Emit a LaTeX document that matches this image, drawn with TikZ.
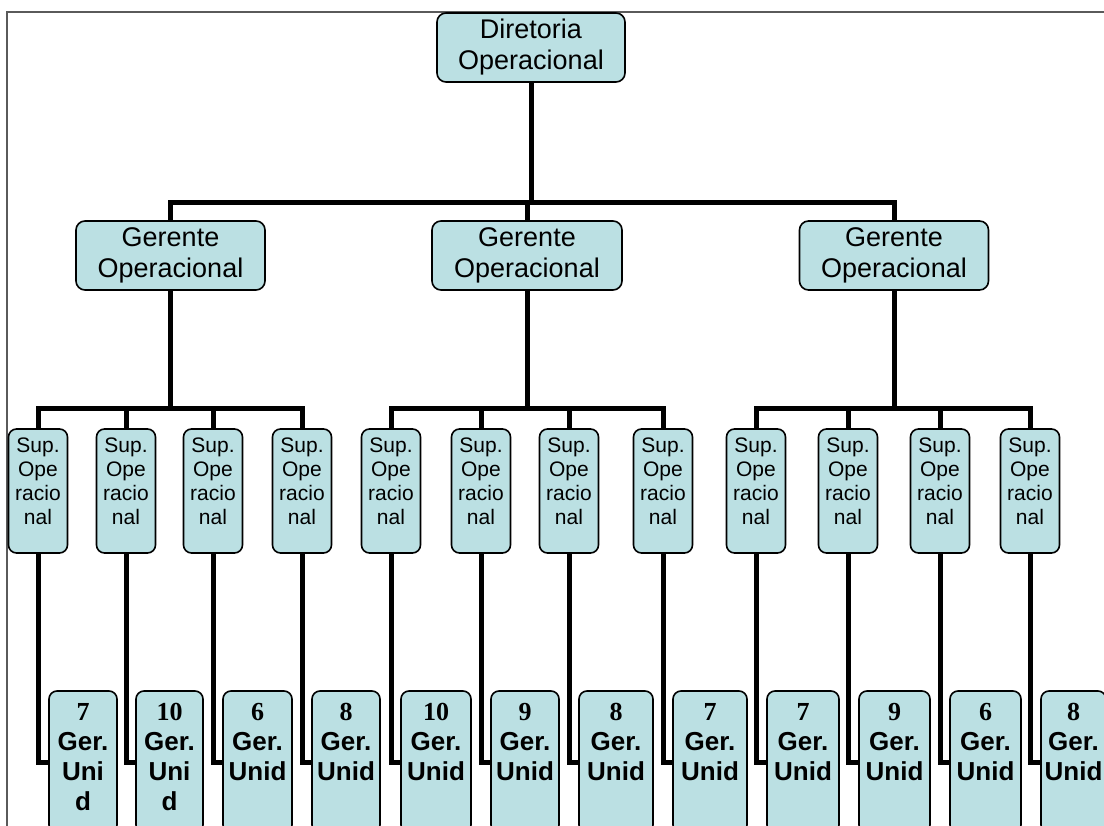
\documentclass[tikz,border=0pt]{standalone}
\usepackage{fontspec}
\setmainfont{Liberation Sans}
\newfontfamily\numfont{Liberation Serif}
\usetikzlibrary{backgrounds}
\definecolor{boxfill}{RGB}{187,224,227}
\definecolor{framecol}{RGB}{90,90,90}
\begin{document}
\begin{tikzpicture}[x=1pt,y=-1pt,
  box/.style={draw=black, line width=1.6pt, fill=boxfill, rounded corners=9pt, inner sep=0pt},
  bigbox/.style={box, minimum width=189pt, minimum height=69pt, align=center, font=\fontsize{27}{31}\selectfont},
  supbox/.style={box, rounded corners=8pt, minimum width=59pt, minimum height=124pt},
  suptext/.style={anchor=north, inner sep=0pt, align=center, font=\fontsize{21}{24}\selectfont},
  gerbox/.style={box, rounded corners=8pt, minimum height=142pt},
  gertext/.style={anchor=north, inner sep=0pt, align=center, font=\fontsize{26}{30}\selectfont\bfseries},
  conn/.style={line width=5pt, line join=miter, draw=black},
  framestyle/.style={line width=1.6pt, draw=framecol}]
\useasboundingbox (0,0) rectangle (1104,826);
\clip (0,0) rectangle (1104,826);

% top nodes
\node[bigbox, minimum width=188pt] (D) at (531,47.5) {Diretoria\\Operacional};
\node[bigbox] (G1) at (170.5,255.5) {Gerente\\Operacional};
\node[bigbox, minimum width=190pt] (G2) at (527,255.5) {Gerente\\Operacional};
\node[bigbox] (G3) at (894,255.5) {Gerente\\Operacional};

% supervisor nodes
\foreach \i/\x in {1/38,2/126,3/213,4/302,5/391,6/481,7/569,8/663,9/756,10/848,11/940,12/1030}{
  \node[supbox] (s\i) at (\x,491) {};
  \node[suptext] (st\i) at ([yshift=-9pt]s\i.north) {Sup.\\Ope\\racio\\nal};
}

% unit manager nodes
\foreach \i/\l/\r/\t in {1/49/117/{{\numfont 7}\\Ger.\\Uni\\d},
                         2/136/203/{{\numfont 10}\\Ger.\\Uni\\d},
                         3/223/292/{{\numfont 6}\\Ger.\\Unid},
                         4/312/380/{{\numfont 8}\\Ger.\\Unid},
                         5/401/471/{{\numfont 10}\\Ger.\\Unid},
                         6/491/559/{{\numfont 9}\\Ger.\\Unid},
                         7/579/653/{{\numfont 8}\\Ger.\\Unid},
                         8/673/747/{{\numfont 7}\\Ger.\\Unid},
                         9/767/839/{{\numfont 7}\\Ger.\\Unid},
                         10/859/930/{{\numfont 9}\\Ger.\\Unid},
                         11/950/1021/{{\numfont 6}\\Ger.\\Unid},
                         12/1041/1106/{{\numfont 8}\\Ger.\\Unid}}{
  \pgfmathsetmacro\cx{(\l+\r)/2}
  \pgfmathsetmacro\w{\r-\l}
  \node[gerbox, minimum width=\w pt] (g\i) at (\cx,762) {};
  \node[gertext] (gt\i) at ([yshift=-13pt]g\i.north) {\t};
}

\coordinate (b0) at (531,203);
\coordinate (b1) at (170.5,409);
\coordinate (b2) at (527,409);
\coordinate (b3) at (894,409);

\begin{pgfonlayer}{background}
  \draw[framestyle] (1110,12) -- (7,12) -- (7,832);
  \draw[conn] (D.south) -- (b0);
  \draw[conn] (G1.north) |- (b0) -| (G3.north);
  \draw[conn] (G2.north) -- (G2.north |- b0);
  \draw[conn] (G1.south) -- (b1);
  \draw[conn] (G2.south) -- (b2);
  \draw[conn] (G3.south) -- (b3);
  \draw[conn] (s1.north) |- (b1) -| (s4.north);
  \draw[conn] (s5.north) |- (b2) -| (s8.north);
  \draw[conn] (s9.north) |- (b3) -| (s12.north);
  \foreach \i/\b in {2/b1,3/b1,6/b2,7/b2,10/b3,11/b3}{
    \draw[conn] (s\i.north) -- (s\i.north |- \b);
  }
  \foreach \i in {1,...,12}{
    \draw[conn] (s\i.south) |- (g\i.west);
  }
\end{pgfonlayer}
\end{tikzpicture}
\end{document}
